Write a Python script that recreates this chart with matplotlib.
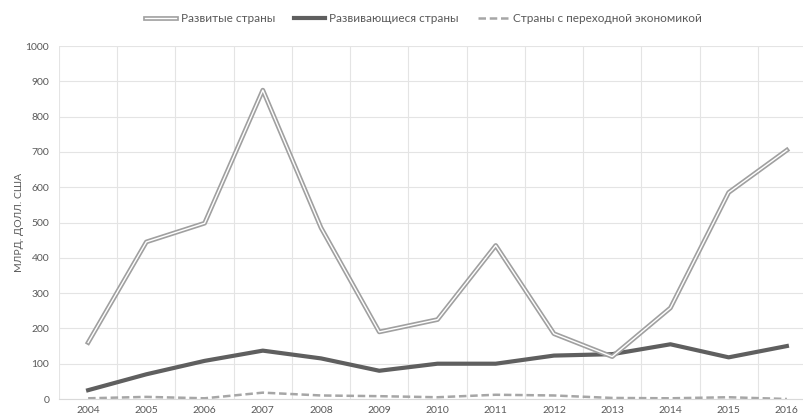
# -*- coding: utf-8 -*-
# FDI outflows by economy group, 2004-2016

import numpy as np
import matplotlib.pyplot as plt
from matplotlib.lines import Line2D

plt.rcParams['font.family'] = ['Lato', 'DejaVu Sans']

#%% Data

years = ['2004', '2005', '2006', '2007', '2008', '2009', '2010',
         '2011', '2012', '2013', '2014', '2015', '2016']
developed = [160, 445, 498, 875, 485, 190, 225, 435, 185, 120, 258, 585, 705]
developing = [25, 70, 108, 137, 115, 80, 100, 100, 123, 127, 155, 118, 150]
transition = [2, 6, 2, 18, 10, 8, 5, 12, 10, 3, 2, 5, 0]

labels = ['Развитые страны', 'Развивающиеся страны',
          'Страны с переходной экономикой']

#%% Plot

TEXT = '#595959'
GRID = '#e4e4e4'

fig = plt.figure(figsize=(8.04, 4.19), dpi=100)
ax = fig.add_axes([59 / 804, 20 / 419, 757 / 804, 353 / 419])

x = np.arange(len(years))

# double line for developed countries
ax.plot(x, developed, color='#a0a0a0', lw=3.4, zorder=4)
ax.plot(x, developed, color='white', lw=1.0, zorder=5)
ax.plot(x, developing, color='#5f5f5f', lw=3.0, zorder=3)
ax.plot(x, transition, color='#a6a6a6', lw=1.8, ls=(0, (3, 1.5)), zorder=2)

ax.set_xlim(-0.5, len(years) - 0.5)
ax.set_ylim(0, 1000)
ax.set_yticks(np.arange(0, 1001, 100))
ax.set_xticks(x)
ax.set_xticklabels(years)
ax.set_xticks(np.arange(-0.5, len(years), 1), minor=True)

ax.grid(True, which='major', axis='y', color=GRID, lw=0.8)
ax.grid(True, which='minor', axis='x', color=GRID, lw=0.8)
ax.set_axisbelow(True)
for s in ['top', 'right', 'left']:
    ax.spines[s].set_visible(False)
ax.spines['bottom'].set_color('#d9d9d9')
ax.tick_params(which='both', length=0, colors=TEXT, labelsize=7.5)
ax.tick_params(axis='y', pad=7)
ax.tick_params(axis='x', pad=5)

ax.set_ylabel('МЛРД. ДОЛЛ. США', color=TEXT, fontsize=7.5, labelpad=1)

# legend
h_dev = (Line2D([], [], color='#a0a0a0', lw=3.4), Line2D([], [], color='white', lw=1.0))
h_ing = Line2D([], [], color='#5f5f5f', lw=3.0)
h_tr = Line2D([], [], color='#a6a6a6', lw=1.8, ls=(0, (3, 1.5)))
fig.legend([h_dev, h_ing, h_tr], labels, loc='center', bbox_to_anchor=(0.527, 0.955),
           ncol=3, frameon=False, fontsize=8.5, labelcolor=TEXT,
           handlelength=2.6, handletextpad=0.4, columnspacing=1.6)

plt.savefig('out.png', dpi=100)
plt.close(fig)

#%% End of Script
